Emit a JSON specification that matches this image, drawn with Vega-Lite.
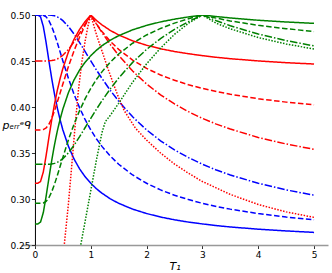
{
 "$schema": "https://vega.github.io/schema/vega-lite/v6.json",
 "width": 307, "height": 230,
 "autosize": {"type": "none"},
 "padding": {"left": 21, "top": 15, "right": 4, "bottom": 28},
 "datasets": {
  "curves": [
{"T":0,"p":0.5,"c":"b","s":"solid"},{"T":0.05,"p":0.5,"c":"b","s":"solid"},{"T":0.1,"p":0.498,"c":"b","s":"solid"},{"T":0.15,"p":0.4875,"c":"b","s":"solid"},{"T":0.2,"p":0.47,"c":"b","s":"solid"},{"T":0.25,"p":0.4501,"c":"b","s":"solid"},{"T":0.3,"p":0.4311,"c":"b","s":"solid"},{"T":0.35,"p":0.414,"c":"b","s":"solid"},{"T":0.4,"p":0.3991,"c":"b","s":"solid"},{"T":0.45,"p":0.3862,"c":"b","s":"solid"},{"T":0.5,"p":0.3751,"c":"b","s":"solid"},{"T":0.6,"p":0.3572,"c":"b","s":"solid"},{"T":0.7,"p":0.3435,"c":"b","s":"solid"},{"T":0.8,"p":0.3327,"c":"b","s":"solid"},{"T":0.9,"p":0.3241,"c":"b","s":"solid"},{"T":1,"p":0.3171,"c":"b","s":"solid"},{"T":1.1,"p":0.3112,"c":"b","s":"solid"},{"T":1.2,"p":0.3063,"c":"b","s":"solid"},{"T":1.35,"p":0.3002,"c":"b","s":"solid"},{"T":1.5,"p":0.2953,"c":"b","s":"solid"},{"T":1.75,"p":0.289,"c":"b","s":"solid"},{"T":2,"p":0.2842,"c":"b","s":"solid"},{"T":2.25,"p":0.2804,"c":"b","s":"solid"},{"T":2.5,"p":0.2774,"c":"b","s":"solid"},{"T":2.75,"p":0.2749,"c":"b","s":"solid"},{"T":3,"p":0.2729,"c":"b","s":"solid"},{"T":3.25,"p":0.2711,"c":"b","s":"solid"},{"T":3.5,"p":0.2696,"c":"b","s":"solid"},{"T":4,"p":0.2672,"c":"b","s":"solid"},{"T":4.5,"p":0.2653,"c":"b","s":"solid"},{"T":5,"p":0.2637,"c":"b","s":"solid"},
{"T":0,"p":0.5,"c":"b","s":"dashed"},{"T":0.1,"p":0.5,"c":"b","s":"dashed"},{"T":0.15,"p":0.4997,"c":"b","s":"dashed"},{"T":0.2,"p":0.498,"c":"b","s":"dashed"},{"T":0.25,"p":0.4939,"c":"b","s":"dashed"},{"T":0.3,"p":0.4875,"c":"b","s":"dashed"},{"T":0.35,"p":0.4793,"c":"b","s":"dashed"},{"T":0.4,"p":0.47,"c":"b","s":"dashed"},{"T":0.45,"p":0.4601,"c":"b","s":"dashed"},{"T":0.5,"p":0.4501,"c":"b","s":"dashed"},{"T":0.6,"p":0.4311,"c":"b","s":"dashed"},{"T":0.7,"p":0.414,"c":"b","s":"dashed"},{"T":0.8,"p":0.3991,"c":"b","s":"dashed"},{"T":0.9,"p":0.3862,"c":"b","s":"dashed"},{"T":1,"p":0.3751,"c":"b","s":"dashed"},{"T":1.1,"p":0.3655,"c":"b","s":"dashed"},{"T":1.2,"p":0.3572,"c":"b","s":"dashed"},{"T":1.35,"p":0.3466,"c":"b","s":"dashed"},{"T":1.5,"p":0.3378,"c":"b","s":"dashed"},{"T":1.75,"p":0.3261,"c":"b","s":"dashed"},{"T":2,"p":0.3171,"c":"b","s":"dashed"},{"T":2.25,"p":0.3099,"c":"b","s":"dashed"},{"T":2.5,"p":0.3041,"c":"b","s":"dashed"},{"T":2.75,"p":0.2994,"c":"b","s":"dashed"},{"T":3,"p":0.2953,"c":"b","s":"dashed"},{"T":3.25,"p":0.2919,"c":"b","s":"dashed"},{"T":3.5,"p":0.289,"c":"b","s":"dashed"},{"T":4,"p":0.2842,"c":"b","s":"dashed"},{"T":4.5,"p":0.2804,"c":"b","s":"dashed"},{"T":5,"p":0.2774,"c":"b","s":"dashed"},
{"T":0,"p":0.5,"c":"b","s":"dashdot"},{"T":0.15,"p":0.5,"c":"b","s":"dashdot"},{"T":0.2,"p":0.5,"c":"b","s":"dashdot"},{"T":0.25,"p":0.4999,"c":"b","s":"dashdot"},{"T":0.3,"p":0.4997,"c":"b","s":"dashdot"},{"T":0.35,"p":0.4991,"c":"b","s":"dashdot"},{"T":0.4,"p":0.498,"c":"b","s":"dashdot"},{"T":0.45,"p":0.4963,"c":"b","s":"dashdot"},{"T":0.5,"p":0.4939,"c":"b","s":"dashdot"},{"T":0.6,"p":0.4875,"c":"b","s":"dashdot"},{"T":0.7,"p":0.4793,"c":"b","s":"dashdot"},{"T":0.8,"p":0.47,"c":"b","s":"dashdot"},{"T":0.9,"p":0.4601,"c":"b","s":"dashdot"},{"T":1,"p":0.4501,"c":"b","s":"dashdot"},{"T":1.1,"p":0.4404,"c":"b","s":"dashdot"},{"T":1.2,"p":0.4311,"c":"b","s":"dashdot"},{"T":1.35,"p":0.4181,"c":"b","s":"dashdot"},{"T":1.5,"p":0.4063,"c":"b","s":"dashdot"},{"T":1.75,"p":0.3893,"c":"b","s":"dashdot"},{"T":2,"p":0.3751,"c":"b","s":"dashdot"},{"T":2.25,"p":0.3633,"c":"b","s":"dashdot"},{"T":2.5,"p":0.3534,"c":"b","s":"dashdot"},{"T":2.75,"p":0.345,"c":"b","s":"dashdot"},{"T":3,"p":0.3378,"c":"b","s":"dashdot"},{"T":3.25,"p":0.3315,"c":"b","s":"dashdot"},{"T":3.5,"p":0.3261,"c":"b","s":"dashdot"},{"T":4,"p":0.3171,"c":"b","s":"dashdot"},{"T":4.5,"p":0.3099,"c":"b","s":"dashdot"},{"T":5,"p":0.3041,"c":"b","s":"dashdot"},
{"T":0,"p":0.3171,"c":"r","s":"solid"},{"T":0.05,"p":0.3171,"c":"r","s":"solid"},{"T":0.1,"p":0.3191,"c":"r","s":"solid"},{"T":0.15,"p":0.3295,"c":"r","s":"solid"},{"T":0.2,"p":0.3471,"c":"r","s":"solid"},{"T":0.25,"p":0.3669,"c":"r","s":"solid"},{"T":0.3,"p":0.386,"c":"r","s":"solid"},{"T":0.35,"p":0.4031,"c":"r","s":"solid"},{"T":0.4,"p":0.418,"c":"r","s":"solid"},{"T":0.45,"p":0.4308,"c":"r","s":"solid"},{"T":0.5,"p":0.4419,"c":"r","s":"solid"},{"T":0.6,"p":0.4599,"c":"r","s":"solid"},{"T":0.7,"p":0.4736,"c":"r","s":"solid"},{"T":0.8,"p":0.4844,"c":"r","s":"solid"},{"T":0.9,"p":0.493,"c":"r","s":"solid"},{"T":1,"p":0.5,"c":"r","s":"solid"},{"T":1.1,"p":0.4942,"c":"r","s":"solid"},{"T":1.2,"p":0.4893,"c":"r","s":"solid"},{"T":1.35,"p":0.4832,"c":"r","s":"solid"},{"T":1.5,"p":0.4783,"c":"r","s":"solid"},{"T":1.75,"p":0.4719,"c":"r","s":"solid"},{"T":2,"p":0.4671,"c":"r","s":"solid"},{"T":2.25,"p":0.4633,"c":"r","s":"solid"},{"T":2.5,"p":0.4603,"c":"r","s":"solid"},{"T":2.75,"p":0.4579,"c":"r","s":"solid"},{"T":3,"p":0.4558,"c":"r","s":"solid"},{"T":3.25,"p":0.454,"c":"r","s":"solid"},{"T":3.5,"p":0.4525,"c":"r","s":"solid"},{"T":4,"p":0.4501,"c":"r","s":"solid"},{"T":4.5,"p":0.4482,"c":"r","s":"solid"},{"T":5,"p":0.4467,"c":"r","s":"solid"},
{"T":0,"p":0.3751,"c":"r","s":"dashed"},{"T":0.1,"p":0.3751,"c":"r","s":"dashed"},{"T":0.15,"p":0.3755,"c":"r","s":"dashed"},{"T":0.2,"p":0.3772,"c":"r","s":"dashed"},{"T":0.25,"p":0.3812,"c":"r","s":"dashed"},{"T":0.3,"p":0.3876,"c":"r","s":"dashed"},{"T":0.35,"p":0.3958,"c":"r","s":"dashed"},{"T":0.4,"p":0.4052,"c":"r","s":"dashed"},{"T":0.45,"p":0.4151,"c":"r","s":"dashed"},{"T":0.5,"p":0.425,"c":"r","s":"dashed"},{"T":0.6,"p":0.4441,"c":"r","s":"dashed"},{"T":0.7,"p":0.4611,"c":"r","s":"dashed"},{"T":0.8,"p":0.476,"c":"r","s":"dashed"},{"T":0.9,"p":0.4889,"c":"r","s":"dashed"},{"T":1,"p":0.5,"c":"r","s":"dashed"},{"T":1.1,"p":0.4904,"c":"r","s":"dashed"},{"T":1.2,"p":0.4821,"c":"r","s":"dashed"},{"T":1.35,"p":0.4714,"c":"r","s":"dashed"},{"T":1.5,"p":0.4626,"c":"r","s":"dashed"},{"T":1.75,"p":0.451,"c":"r","s":"dashed"},{"T":2,"p":0.4419,"c":"r","s":"dashed"},{"T":2.25,"p":0.4348,"c":"r","s":"dashed"},{"T":2.5,"p":0.429,"c":"r","s":"dashed"},{"T":2.75,"p":0.4242,"c":"r","s":"dashed"},{"T":3,"p":0.4202,"c":"r","s":"dashed"},{"T":3.25,"p":0.4168,"c":"r","s":"dashed"},{"T":3.5,"p":0.4138,"c":"r","s":"dashed"},{"T":4,"p":0.409,"c":"r","s":"dashed"},{"T":4.5,"p":0.4053,"c":"r","s":"dashed"},{"T":5,"p":0.4023,"c":"r","s":"dashed"},
{"T":0,"p":0.4501,"c":"r","s":"dashdot"},{"T":0.2,"p":0.4501,"c":"r","s":"dashdot"},{"T":0.25,"p":0.4502,"c":"r","s":"dashdot"},{"T":0.3,"p":0.4505,"c":"r","s":"dashdot"},{"T":0.35,"p":0.4511,"c":"r","s":"dashdot"},{"T":0.4,"p":0.4522,"c":"r","s":"dashdot"},{"T":0.45,"p":0.4539,"c":"r","s":"dashdot"},{"T":0.5,"p":0.4562,"c":"r","s":"dashdot"},{"T":0.6,"p":0.4626,"c":"r","s":"dashdot"},{"T":0.7,"p":0.4708,"c":"r","s":"dashdot"},{"T":0.8,"p":0.4802,"c":"r","s":"dashdot"},{"T":0.9,"p":0.4901,"c":"r","s":"dashdot"},{"T":1,"p":0.5,"c":"r","s":"dashdot"},{"T":1.1,"p":0.4903,"c":"r","s":"dashdot"},{"T":1.2,"p":0.481,"c":"r","s":"dashdot"},{"T":1.35,"p":0.4679,"c":"r","s":"dashdot"},{"T":1.5,"p":0.4562,"c":"r","s":"dashdot"},{"T":1.75,"p":0.4391,"c":"r","s":"dashdot"},{"T":2,"p":0.425,"c":"r","s":"dashdot"},{"T":2.25,"p":0.4132,"c":"r","s":"dashdot"},{"T":2.5,"p":0.4033,"c":"r","s":"dashdot"},{"T":2.75,"p":0.3949,"c":"r","s":"dashdot"},{"T":3,"p":0.3876,"c":"r","s":"dashdot"},{"T":3.25,"p":0.3814,"c":"r","s":"dashdot"},{"T":3.5,"p":0.376,"c":"r","s":"dashdot"},{"T":4,"p":0.3669,"c":"r","s":"dashdot"},{"T":4.5,"p":0.3598,"c":"r","s":"dashdot"},{"T":5,"p":0.354,"c":"r","s":"dashdot"},
{"T":0.48,"p":0.222,"c":"r","s":"dotted"},{"T":0.525,"p":0.25,"c":"r","s":"dotted"},{"T":0.6,"p":0.295,"c":"r","s":"dotted"},{"T":0.66,"p":0.337,"c":"r","s":"dotted"},{"T":0.72,"p":0.38,"c":"r","s":"dotted"},{"T":0.78,"p":0.419,"c":"r","s":"dotted"},{"T":0.84,"p":0.449,"c":"r","s":"dotted"},{"T":0.9,"p":0.472,"c":"r","s":"dotted"},{"T":0.95,"p":0.488,"c":"r","s":"dotted"},{"T":1,"p":0.5,"c":"r","s":"dotted"},{"T":1.1,"p":0.479,"c":"r","s":"dotted"},{"T":1.2,"p":0.461,"c":"r","s":"dotted"},{"T":1.3,"p":0.443,"c":"r","s":"dotted"},{"T":1.4,"p":0.426,"c":"r","s":"dotted"},{"T":1.5,"p":0.41,"c":"r","s":"dotted"},{"T":1.6,"p":0.396,"c":"r","s":"dotted"},{"T":1.8,"p":0.377,"c":"r","s":"dotted"},{"T":2,"p":0.364,"c":"r","s":"dotted"},{"T":2.25,"p":0.35,"c":"r","s":"dotted"},{"T":2.5,"p":0.338,"c":"r","s":"dotted"},{"T":2.75,"p":0.328,"c":"r","s":"dotted"},{"T":3,"p":0.319,"c":"r","s":"dotted"},{"T":3.5,"p":0.305,"c":"r","s":"dotted"},{"T":4,"p":0.294,"c":"r","s":"dotted"},{"T":4.5,"p":0.286,"c":"r","s":"dotted"},{"T":5,"p":0.28,"c":"r","s":"dotted"},
{"T":0,"p":0.2729,"c":"g","s":"solid"},{"T":0.05,"p":0.2729,"c":"g","s":"solid"},{"T":0.1,"p":0.2749,"c":"g","s":"solid"},{"T":0.15,"p":0.2853,"c":"g","s":"solid"},{"T":0.2,"p":0.3029,"c":"g","s":"solid"},{"T":0.25,"p":0.3227,"c":"g","s":"solid"},{"T":0.3,"p":0.3418,"c":"g","s":"solid"},{"T":0.35,"p":0.3589,"c":"g","s":"solid"},{"T":0.4,"p":0.3738,"c":"g","s":"solid"},{"T":0.45,"p":0.3866,"c":"g","s":"solid"},{"T":0.5,"p":0.3977,"c":"g","s":"solid"},{"T":0.6,"p":0.4157,"c":"g","s":"solid"},{"T":0.7,"p":0.4294,"c":"g","s":"solid"},{"T":0.8,"p":0.4402,"c":"g","s":"solid"},{"T":0.9,"p":0.4488,"c":"g","s":"solid"},{"T":1,"p":0.4558,"c":"g","s":"solid"},{"T":1.1,"p":0.4616,"c":"g","s":"solid"},{"T":1.2,"p":0.4666,"c":"g","s":"solid"},{"T":1.35,"p":0.4726,"c":"g","s":"solid"},{"T":1.5,"p":0.4775,"c":"g","s":"solid"},{"T":1.75,"p":0.4839,"c":"g","s":"solid"},{"T":2,"p":0.4887,"c":"g","s":"solid"},{"T":2.25,"p":0.4925,"c":"g","s":"solid"},{"T":2.5,"p":0.4955,"c":"g","s":"solid"},{"T":2.75,"p":0.4979,"c":"g","s":"solid"},{"T":3,"p":0.5,"c":"g","s":"solid"},{"T":3.25,"p":0.4983,"c":"g","s":"solid"},{"T":3.5,"p":0.4968,"c":"g","s":"solid"},{"T":4,"p":0.4943,"c":"g","s":"solid"},{"T":4.5,"p":0.4924,"c":"g","s":"solid"},{"T":5,"p":0.4909,"c":"g","s":"solid"},
{"T":0,"p":0.2953,"c":"g","s":"dashed"},{"T":0.1,"p":0.2953,"c":"g","s":"dashed"},{"T":0.15,"p":0.2957,"c":"g","s":"dashed"},{"T":0.2,"p":0.2974,"c":"g","s":"dashed"},{"T":0.25,"p":0.3014,"c":"g","s":"dashed"},{"T":0.3,"p":0.3078,"c":"g","s":"dashed"},{"T":0.35,"p":0.316,"c":"g","s":"dashed"},{"T":0.4,"p":0.3254,"c":"g","s":"dashed"},{"T":0.45,"p":0.3353,"c":"g","s":"dashed"},{"T":0.5,"p":0.3452,"c":"g","s":"dashed"},{"T":0.6,"p":0.3643,"c":"g","s":"dashed"},{"T":0.7,"p":0.3813,"c":"g","s":"dashed"},{"T":0.8,"p":0.3962,"c":"g","s":"dashed"},{"T":0.9,"p":0.4091,"c":"g","s":"dashed"},{"T":1,"p":0.4202,"c":"g","s":"dashed"},{"T":1.1,"p":0.4298,"c":"g","s":"dashed"},{"T":1.2,"p":0.4382,"c":"g","s":"dashed"},{"T":1.35,"p":0.4488,"c":"g","s":"dashed"},{"T":1.5,"p":0.4576,"c":"g","s":"dashed"},{"T":1.75,"p":0.4693,"c":"g","s":"dashed"},{"T":2,"p":0.4783,"c":"g","s":"dashed"},{"T":2.25,"p":0.4854,"c":"g","s":"dashed"},{"T":2.5,"p":0.4912,"c":"g","s":"dashed"},{"T":2.75,"p":0.496,"c":"g","s":"dashed"},{"T":3,"p":0.5,"c":"g","s":"dashed"},{"T":3.25,"p":0.4966,"c":"g","s":"dashed"},{"T":3.5,"p":0.4936,"c":"g","s":"dashed"},{"T":4,"p":0.4888,"c":"g","s":"dashed"},{"T":4.5,"p":0.4851,"c":"g","s":"dashed"},{"T":5,"p":0.4821,"c":"g","s":"dashed"},
{"T":0,"p":0.3378,"c":"g","s":"dashdot"},{"T":0.25,"p":0.3378,"c":"g","s":"dashdot"},{"T":0.3,"p":0.3381,"c":"g","s":"dashdot"},{"T":0.35,"p":0.3387,"c":"g","s":"dashdot"},{"T":0.4,"p":0.3398,"c":"g","s":"dashdot"},{"T":0.45,"p":0.3415,"c":"g","s":"dashdot"},{"T":0.5,"p":0.3438,"c":"g","s":"dashdot"},{"T":0.6,"p":0.3502,"c":"g","s":"dashdot"},{"T":0.7,"p":0.3584,"c":"g","s":"dashdot"},{"T":0.8,"p":0.3678,"c":"g","s":"dashdot"},{"T":0.9,"p":0.3777,"c":"g","s":"dashdot"},{"T":1,"p":0.3876,"c":"g","s":"dashdot"},{"T":1.1,"p":0.3974,"c":"g","s":"dashdot"},{"T":1.2,"p":0.4067,"c":"g","s":"dashdot"},{"T":1.35,"p":0.4197,"c":"g","s":"dashdot"},{"T":1.5,"p":0.4315,"c":"g","s":"dashdot"},{"T":1.75,"p":0.4485,"c":"g","s":"dashdot"},{"T":2,"p":0.4626,"c":"g","s":"dashdot"},{"T":2.25,"p":0.4744,"c":"g","s":"dashdot"},{"T":2.5,"p":0.4843,"c":"g","s":"dashdot"},{"T":2.75,"p":0.4928,"c":"g","s":"dashdot"},{"T":3,"p":0.5,"c":"g","s":"dashdot"},{"T":3.25,"p":0.4938,"c":"g","s":"dashdot"},{"T":3.5,"p":0.4883,"c":"g","s":"dashdot"},{"T":4,"p":0.4793,"c":"g","s":"dashdot"},{"T":4.5,"p":0.4722,"c":"g","s":"dashdot"},{"T":5,"p":0.4664,"c":"g","s":"dashdot"},
{"T":0.76,"p":0.228,"c":"g","s":"dotted"},{"T":0.82,"p":0.25,"c":"g","s":"dotted"},{"T":0.9,"p":0.276,"c":"g","s":"dotted"},{"T":1,"p":0.309,"c":"g","s":"dotted"},{"T":1.1,"p":0.342,"c":"g","s":"dotted"},{"T":1.2,"p":0.372,"c":"g","s":"dotted"},{"T":1.26,"p":0.384,"c":"g","s":"dotted"},{"T":1.35,"p":0.391,"c":"g","s":"dotted"},{"T":1.5,"p":0.404,"c":"g","s":"dotted"},{"T":1.75,"p":0.427,"c":"g","s":"dotted"},{"T":2,"p":0.447,"c":"g","s":"dotted"},{"T":2.25,"p":0.464,"c":"g","s":"dotted"},{"T":2.5,"p":0.479,"c":"g","s":"dotted"},{"T":2.75,"p":0.491,"c":"g","s":"dotted"},{"T":3,"p":0.5,"c":"g","s":"dotted"},{"T":3.25,"p":0.491,"c":"g","s":"dotted"},{"T":3.5,"p":0.485,"c":"g","s":"dotted"},{"T":4,"p":0.4755,"c":"g","s":"dotted"},{"T":4.5,"p":0.4685,"c":"g","s":"dotted"},{"T":5,"p":0.463,"c":"g","s":"dotted"}
  ]
 },
 "data": {"name": "curves"},
 "mark": {"type": "line", "strokeWidth": 1.5, "clip": true},
 "encoding": {
  "x": {"field": "T", "type": "quantitative",
        "scale": {"domain": [-0.25, 5.25], "nice": false, "zero": false},
        "axis": {"values": [0, 1, 2, 3, 4, 5], "format": "d", "title": "T₁", "grid": false,
                 "domainColor": "#999999", "domainWidth": 1.6, "tickColor": "#333333", "tickSize": 3.5,
                 "labelFontSize": 9, "labelPadding": 2, "titleFontStyle": "italic", "titleFontWeight": "normal",
                 "titleFontSize": 11, "titlePadding": 1}},
  "y": {"field": "p", "type": "quantitative",
        "scale": {"domain": [0.25, 0.5], "nice": false, "zero": false},
        "axis": {"values": [0.25, 0.3, 0.35, 0.4, 0.45, 0.5], "format": ".2f", "grid": false, "offset": -13.95,
                 "domainColor": "#000000", "domainWidth": 1, "tickColor": "#333333", "tickSize": 3.5,
                 "labelFontSize": 9, "labelPadding": 1.5,
                 "title": "pₑᵣᵣᵉᑫ", "titleAngle": 0, "titleX": -33, "titleY": 113, "titleAlign": "left",
                 "titleBaseline": "alphabetic", "titleFontStyle": "italic", "titleFontWeight": "normal", "titleFontSize": 11}},
  "color": {"field": "c", "type": "nominal",
            "scale": {"domain": ["b", "r", "g"], "range": ["#0000ff", "#ff0000", "#008000"]}, "legend": null},
  "strokeDash": {"field": "s", "type": "nominal",
                 "scale": {"domain": ["solid", "dashed", "dashdot", "dotted"], "range": [[1, 0], [5.5, 2.5], [7.5, 2, 1.5, 2], [1.5, 1.5]]},
                 "legend": null}
 },
 "config": {
  "view": {"stroke": null},
  "axis": {"labelFont": "DejaVu Sans", "titleFont": "DejaVu Sans", "labelColor": "#000000", "titleColor": "#000000"}
 }
}
